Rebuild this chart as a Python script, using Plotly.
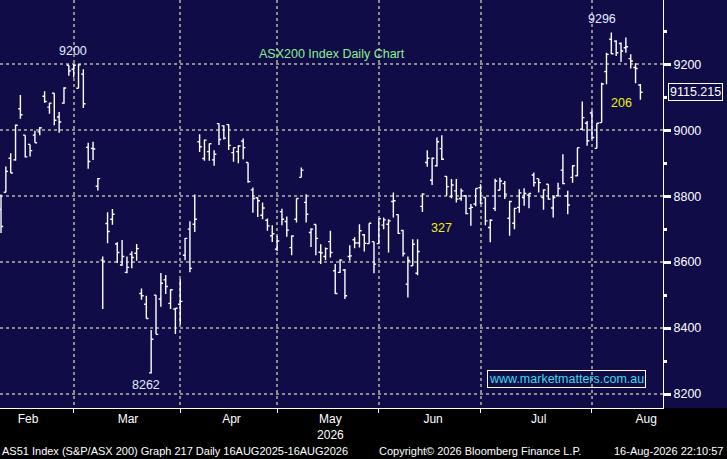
"""
ASX200 daily OHLC chart (Bloomberg style)
"""
import numpy as np
import pandas as pd
import plotly.graph_objects as go

# trading days, weekends and ASX holidays removed
holidays = ["2026-04-03", "2026-04-06", "2026-06-08"]
dates = pd.bdate_range("2026-02-09", "2026-08-17")
dates = dates[~dates.isin(pd.to_datetime(holidays))]

opens = [
    8760, 8812, 8915, 8910, 9065, 8985, 8957, 8985, 8995, 9103, 9070, 9112, 9040, 9082, 9197,
    9185, 9127, 9170, 8948, 8945, 8830, 8606, 8717, 8730, 8655, 8591, 8569, 8624, 8627, 8505, 8472,
    8264, 8500, 8488, 8546, 8475, 8458,
    8472, 8621, 8700, 8715, 8965, 8914, 8935, 8910, 9020, 9013, 9017, 8932, 8935, 8967, 8902, 8819,
    8795, 8742, 8727, 8680,
    8639, 8753, 8723, 8644, 8730, 8857, 8781, 8690, 8714, 8630, 8617, 8662, 8574, 8569, 8576, 8617,
    8668, 8658, 8683, 8656, 8662,
    8656, 8712, 8715, 8784, 8744, 8696, 8533, 8589, 8566, 8769, 8902, 8848, 8892, 8944, 8860, 8799,
    8816, 8793, 8801, 8763, 8776,
    8826, 8796, 8705, 8763, 8818, 8838, 8733, 8718, 8766, 8796, 8803, 8864, 8853, 8796, 8836, 8764,
    8801, 8879, 8801, 8857, 8862, 9003, 9021,
    9052, 8945, 9023, 9178, 9276, 9270, 9263, 9250, 9217, 9190, 9137,
]
highs = [
    8805, 8890, 8930, 9017, 9107, 8985, 8957, 8998, 9010, 9118, 9083, 9112, 9055, 9130, 9197,
    9200, 9200, 9185, 8962, 8965, 8855, 8617, 8751, 8761, 8660, 8667, 8617, 8633, 8655, 8520, 8498,
    8394, 8500, 8567, 8561, 8518, 8460,
    8549, 8673, 8724, 8805, 8988, 8972, 8960, 8939, 9021, 9015, 9018, 8947, 8954, 8975, 8902, 8826,
    8796, 8781, 8732, 8712,
    8680, 8762, 8738, 8681, 8793, 8887, 8806, 8703, 8714, 8654, 8644, 8695, 8594, 8609, 8579, 8651,
    8675, 8715, 8685, 8718, 8662,
    8732, 8735, 8730, 8811, 8745, 8698, 8617, 8669, 8669, 8809, 8939, 8917, 8978, 8985, 8860, 8852,
    8852, 8823, 8803, 8776, 8823,
    8836, 8796, 8730, 8853, 8856, 8846, 8786, 8765, 8821, 8824, 8809, 8872, 8853, 8821, 8836, 8801,
    8841, 8927, 8816, 8894, 8947, 9087, 9028,
    9059, 9021, 9144, 9235, 9296, 9273, 9266, 9281, 9230, 9203, 9140,
]
lows = [
    8688, 8812, 8870, 8907, 9035, 8917, 8920, 8962, 8985, 9083, 9050, 9015, 8992, 9080, 9165,
    9160, 9127, 9067, 8883, 8910, 8817, 8458, 8657, 8713, 8597, 8589, 8566, 8581, 8604, 8486, 8429,
    8262, 8381, 8465, 8503, 8458, 8382,
    8411, 8606, 8569, 8691, 8934, 8907, 8907, 8892, 8955, 8972, 8940, 8904, 8900, 8912, 8841, 8750,
    8737, 8730, 8695, 8661,
    8634, 8712, 8677, 8621, 8720, 8857, 8720, 8646, 8621, 8594, 8606, 8614, 8503, 8567, 8488, 8604,
    8642, 8644, 8632, 8656, 8566,
    8654, 8700, 8629, 8735, 8685, 8617, 8493, 8589, 8560, 8752, 8889, 8834, 8890, 8910, 8801, 8794,
    8781, 8786, 8745, 8710, 8769,
    8776, 8712, 8660, 8755, 8818, 8791, 8680, 8700, 8750, 8771, 8763, 8829, 8811, 8759, 8789, 8735,
    8801, 8836, 8745, 8841, 8860, 9001, 8953,
    8973, 8945, 9023, 9139, 9230, 9225, 9207, 9235, 9187, 9142, 9092,
]
closes = [
    8708, 8875, 8870, 9015, 9047, 8919, 8938, 8962, 9007, 9087, 9082, 9030, 9025, 9128, 9180,
    9197, 9198, 9080, 8905, 8943, 8853, 8603, 8693, 8745, 8629, 8617, 8584, 8614, 8641, 8498, 8429,
    8366, 8381, 8536, 8526, 8516, 8460,
    8481, 8672, 8581, 8730, 8950, 8970, 8959, 8927, 8972, 8976, 8954, 8947, 8952, 8947, 8844, 8793,
    8786, 8764, 8710, 8686,
    8664, 8730, 8697, 8679, 8793, 8879, 8745, 8700, 8672, 8628, 8641, 8629, 8505, 8606, 8498, 8619,
    8658, 8695, 8657, 8718, 8594,
    8732, 8728, 8725, 8786, 8687, 8626, 8605, 8654, 8632, 8806, 8915, 8915, 8965, 8912, 8829, 8834,
    8791, 8816, 8747, 8766, 8823,
    8779, 8725, 8727, 8846, 8846, 8806, 8784, 8763, 8810, 8808, 8808, 8841, 8841, 8819, 8791, 8796,
    8823, 8838, 8773, 8892, 8947, 9038, 8968,
    8978, 9021, 9140, 9230, 9232, 9235, 9240, 9253, 9210, 9187, 9115.215,
]

# axis ticks
y_ticks = [8200, 8400, 8600, 8800, 9000, 9200]
month_starts = ["2026-03-02", "2026-04-01", "2026-05-01", "2026-06-01", "2026-07-01", "2026-08-03"]
month_label_pos = ["2026-02-16 14:00", "2026-03-17 05:00", "2026-04-17 14:00", "2026-05-18",
                   "2026-06-17 05:00", "2026-07-17", "2026-08-18 05:00"]
month_labels = ["Feb", "Mar", "Apr", "May<br>2026", "Jun", "Jul", "Aug"]

# move labels drawn on the chart: (text, bar index, value)
move_labels = [("327", 91, 8703), ("206", 128, 9082)]

NAVY = "#0f0c48"
GRID = "#8c8c8c"
SANS = "Liberation Sans, Arial, sans-serif"

fig = go.Figure()

fig.add_trace(go.Ohlc(
    x=dates, open=opens, high=highs, low=lows, close=closes,
    increasing=dict(line=dict(color="white", width=1.4)),
    decreasing=dict(line=dict(color="white", width=1.4)),
    tickwidth=0.45,
    hoverinfo="skip",
    showlegend=False,
))

# high / low labels
i_top_early = int(np.argmax(highs[:40]))
i_low = int(np.argmin(lows))
i_top = int(np.argmax(highs))
hl_font = dict(family=SANS, size=12.5, color="#e4ecff")
fig.add_annotation(x=dates[i_top_early], y=highs[i_top_early], text="9200", showarrow=False,
                   yanchor="bottom", yshift=4, xshift=-1, font=hl_font)
fig.add_annotation(x=dates[i_low], y=lows[i_low], text="8262", showarrow=False,
                   yanchor="top", yshift=-2, xshift=-5, font=hl_font)
fig.add_annotation(x=dates[i_top], y=highs[i_top], text="9296", showarrow=False,
                   yanchor="bottom", yshift=5, xshift=-9, font=hl_font)

for text, idx, val in move_labels:
    fig.add_annotation(x=dates[idx], y=val, text=text, showarrow=False,
                       font=dict(family=SANS, size=12.5, color="#f2f200"))

# title inside the plot
fig.add_annotation(x=0.501, y=0.868, xref="paper", yref="paper", text="ASX200 Index Daily Chart",
                   xanchor="center", yanchor="middle", showarrow=False,
                   font=dict(family=SANS, size=12.5, color="#8ef08e"))

# watermark box
fig.add_annotation(x=0.855, y=0.07, xref="paper", yref="paper", text="www.marketmatters.com.au",
                   xanchor="center", yanchor="middle", showarrow=False,
                   bordercolor="white", borderwidth=1, borderpad=1,
                   font=dict(family=SANS, size=12.5, color="#36dde8"))

# last price tag
fig.add_annotation(x=1, y=closes[-1], xref="paper", yref="y", text=f"{closes[-1]:.3f}",
                   showarrow=False, xanchor="left", yanchor="middle", xshift=5, bgcolor=NAVY,
                   bordercolor="white", borderwidth=1, borderpad=1,
                   font=dict(family=SANS, size=12.5, color="white"))

# footer
foot_font = dict(family=SANS, size=11, color="white")
fig.add_annotation(x=0, y=-0.105, xref="paper", yref="paper", xanchor="left",
                   yanchor="middle", showarrow=False, font=foot_font,
                   text="AS51 Index (S&P/ASX 200) Graph 217 Daily 16AUG2025-16AUG2026")
fig.add_annotation(x=0.568, y=-0.105, xref="paper", yref="paper", xanchor="left",
                   yanchor="middle", showarrow=False, font=foot_font,
                   text="Copyright\u00a9 2026 Bloomberg Finance L.P.")
fig.add_annotation(x=1.0935, y=-0.105, xref="paper", yref="paper", xanchor="right",
                   yanchor="middle", showarrow=False, font=foot_font,
                   text="16-Aug-2026 22:10:57")

# navy strip behind the price axis
fig.add_shape(type="rect", xref="paper", yref="paper", x0=1, x1=727 / 663, y0=0, y1=1,
              fillcolor=NAVY, line_width=0, layer="below")

fig.update_layout(
    width=727, height=459,
    margin=dict(l=0, r=64, t=0, b=51),
    paper_bgcolor="black",
    plot_bgcolor=NAVY,
    showlegend=False,
    xaxis=dict(
        type="date",
        range=["2026-02-06 19:00", "2026-08-21 16:00"],
        rangebreaks=[dict(bounds=["sat", "mon"]), dict(values=holidays)],
        rangeslider=dict(visible=False),
        tickmode="array", tickvals=month_label_pos, ticktext=month_labels,
        ticks="", showgrid=False,
        minor=dict(tickvals=month_starts, ticks="outside", ticklen=4, tickcolor="white",
                   showgrid=True, gridcolor=GRID, griddash="dot", gridwidth=1.5),
        showline=True, linecolor="white", linewidth=1,
        tickfont=dict(family=SANS, size=12, color="white"),
        fixedrange=True,
    ),
    yaxis=dict(
        side="right",
        range=[8157.6, 9394.8],
        tickvals=y_ticks,
        ticks="outside", ticklen=7, tickwidth=3, tickcolor="white",
        minor=dict(dtick=100, ticks="outside", ticklen=3, tickcolor="white", showgrid=False),
        showline=True, linecolor="white", linewidth=1,
        showgrid=True, gridcolor=GRID, griddash="dot", gridwidth=1.5,
        zeroline=False,
        tickfont=dict(family=SANS, size=12.5, color="white"),
        fixedrange=True,
    ),
)

# page has a default 8px body margin; drop it so the chart fills the window
fig.write_html("out.html", config={"displayModeBar": False},
               post_script="document.body.style.margin = '0';")
